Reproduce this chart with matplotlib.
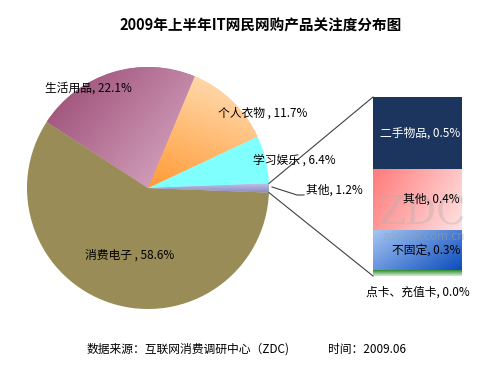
import numpy as np
import matplotlib
matplotlib.use("Agg")
import matplotlib.pyplot as plt
from matplotlib.colors import LinearSegmentedColormap

plt.rcParams['font.family'] = ['Noto Sans CJK SC', 'DejaVu Sans']

# pie data (order: counterclockwise starting from the exploded "other" slice)
pie_labels = ['其他, 1.2%', '学习娱乐 , 6.4%', '个人衣物 , 11.7%', '生活用品, 22.1%', '消费电子 , 58.6%']
pie_values = [1.2, 6.4, 11.7, 22.1, 58.6]

# bar-of-pie data (top to bottom)
sub_names = ['二手物品', '其他', '不固定', '点卡、充值卡']
sub_values = [0.50, 0.43, 0.28, 0.04]

title = '2009年上半年IT网民网购产品关注度分布图'
source = '数据来源：互联网消费调研中心（ZDC)'
date = '时间：2009.06'

W, H = 500, 375
fig = plt.figure(figsize=(5, 3.75), dpi=100)
ax = fig.add_axes([0, 0, 1, 1])


def Y(py):
    # pixel row -> data y
    return H - py


def fill_gradient(ax, patch, box, c0, c1, angle):
    # paint a linear gradient clipped to patch; angle in degrees (direction c0 -> c1)
    x0, x1, y0, y1 = box
    n = 200
    gx, gy = np.meshgrid(np.linspace(0, 1, n), np.linspace(0, 1, n))
    a = np.deg2rad(angle)
    t = gx * np.cos(a) + gy * np.sin(a)
    t = (t - t.min()) / (t.max() - t.min())
    cmap = LinearSegmentedColormap.from_list('g', [c0, c1])
    im = ax.imshow(t, cmap=cmap, extent=(x0, x1, y0, y1), origin='lower',
                   interpolation='bilinear', zorder=patch.get_zorder() + 0.1, aspect='auto')
    im.set_clip_path(patch)


def wedge_box(w):
    ang = np.deg2rad(np.linspace(w.theta1, w.theta2, 50))
    xs = np.r_[w.center[0], w.center[0] + w.r * np.cos(ang)]
    ys = np.r_[w.center[1], w.center[1] + w.r * np.sin(ang)]
    return xs.min(), xs.max(), ys.min(), ys.max()


cx, cy, r = 148, Y(188), 121
pie_colors = ['#a3a3d3', '#80ffff', '#ffb870', '#b8789c', '#998c57']
start = -pie_values[0] / sum(pie_values) * 360 / 2
wedges, _ = ax.pie(pie_values, startangle=start, counterclock=True, center=(cx, cy),
                   radius=r, colors=pie_colors, wedgeprops=dict(linewidth=0))
fill_gradient(ax, wedges[2], wedge_box(wedges[2]), '#ff9a36', '#ffe2bc', 70)
fill_gradient(ax, wedges[3], wedge_box(wedges[3]), '#dcaec8', '#974670', 145)
fill_gradient(ax, wedges[0], wedge_box(wedges[0]), '#8888c0', '#c4c4e6', 90)

# stacked bar
bar_x, bar_w = 417.5, 89
bar_bottom, bar_top = Y(276), Y(97)
scale = (bar_top - bar_bottom) / sum(sub_values)
sub_colors = ['#1c355e', '#ff9090', '#4f86d8', '#3a9a3a']
heights = [v * scale for v in sub_values]
bottoms = [bar_top - sum(heights[:i + 1]) for i in range(len(heights))]
bars = ax.bar([bar_x] * len(sub_values), heights, bottom=bottoms, width=bar_w,
              color=sub_colors, linewidth=0)
grads = [None, ('#ff7a7a', '#ffe2e2', -20), ('#a8c8f4', '#0c4cbc', -35), ('#2a882a', '#d8eed8', -90)]
for b, g in zip(bars, grads):
    if g is None:
        continue
    bx0, by0 = b.get_x(), b.get_y()
    fill_gradient(ax, b, (bx0, bx0 + b.get_width(), by0, by0 + b.get_height()), *g)

# connector lines from the small slice to the bar
w0 = wedges[0]
for th, yy in [(w0.theta2, bar_top), (w0.theta1, bar_bottom)]:
    px = cx + r * np.cos(np.deg2rad(th))
    py = cy + r * np.sin(np.deg2rad(th))
    ax.plot([px, bar_x - bar_w / 2], [py, yy], color='#404040', lw=0.8, zorder=5)

fs = 8.5
# pie labels
ax.text(45, Y(88), pie_labels[3], fontsize=fs, va='center', ha='left', zorder=6)
ax.text(218, Y(113), pie_labels[2], fontsize=fs, va='center', ha='left', zorder=6)
ax.text(253, Y(160), pie_labels[1], fontsize=fs, va='center', ha='left', zorder=6)
ax.text(85, Y(255), pie_labels[4], fontsize=fs, va='center', ha='left', zorder=6)
ax.text(306, Y(190), pie_labels[0], fontsize=fs, va='center', ha='left', zorder=6)
ax.plot([272, 297, 304], [Y(187), Y(195), Y(195)], color='#404040', lw=0.8, zorder=5)

# watermark
ax.text(422, Y(214), 'ZDC', fontsize=28, family='DejaVu Serif', color='#b0b0b0',
        alpha=0.35, ha='center', va='center', zorder=6)
ax.text(424, Y(236), 'zdc.zol.com.cn', fontsize=8.5, color='#a0a0a0', alpha=0.5,
        ha='center', va='center', zorder=6)

# bar labels
bar_text_colors = ['white', 'black', 'black']
for b, name, v, tc in zip(bars[:3], sub_names[:3], sub_values[:3], bar_text_colors):
    ax.text(b.get_x() + bar_w - 2, b.get_y() + b.get_height() / 2, f'{name}, {v:.1f}%',
            fontsize=fs, color=tc, ha='right', va='center', zorder=7)
ax.text(bar_x, Y(292), f'{sub_names[3]}, {sub_values[3]:.1f}%', fontsize=fs,
        ha='center', va='center', zorder=7)

ax.text(261, Y(25), title, fontsize=10.5, fontweight='bold', ha='center', va='center')
ax.text(87, Y(349), source, fontsize=8.5, ha='left', va='center')
ax.text(328, Y(349), date, fontsize=8.5, ha='left', va='center')

ax.set_xlim(0, W)
ax.set_ylim(0, H)
ax.set_aspect('auto')
ax.axis('off')
fig.savefig('out.png', dpi=100)
